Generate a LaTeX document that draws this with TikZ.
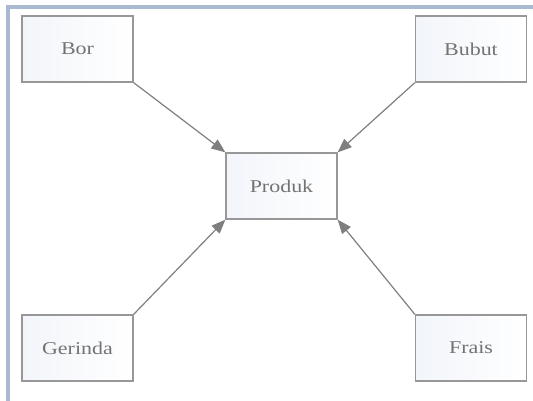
\documentclass[tikz,border=0pt]{standalone}
\usepackage{fontspec}
\setmainfont{Liberation Serif}
\usetikzlibrary{arrows.meta}
\definecolor{framec}{HTML}{A8B9D0}
\definecolor{boxline}{HTML}{979797}
\definecolor{boxfill}{HTML}{F2F5FA}
\definecolor{txtc}{HTML}{737373}
\definecolor{arrc}{HTML}{7F7F7F}
\tikzset{
  procbox/.style={draw=boxline, line width=1.3pt, shading angle=135, left color=boxfill, right color=white,
    minimum width=111pt, minimum height=66pt, inner sep=0pt, text=txtc,
    font=\fontsize{18}{20}\selectfont},
  conn/.style={draw=arrc, line width=1.2pt, -{Triangle[length=14pt,width=11pt]}}
}
\newcommand{\wtxt}[1]{\scalebox{1.22}[1]{#1}}
\begin{document}
\begin{tikzpicture}[x=1pt,y=-1pt]
\useasboundingbox (0,0) rectangle (533,401);
\fill[white] (0,0) rectangle (533,401);
\draw[framec, line width=4pt] (8,401) -- (8,6.7) -- (533,6.7);
\node[procbox] (bor) at (77.5,49) {\wtxt{Bor}};
\node[procbox] (bubut) at (471,49) {\wtxt{Bubut}};
\node[procbox] (produk) at (281.5,186) {\wtxt{Produk}};
\node[procbox] (gerinda) at (77.5,348) {\wtxt{Gerinda}};
\node[procbox] (frais) at (471,348) {\wtxt{Frais}};
\draw[conn] (bor.south east) -- (produk.north west);
\draw[conn] (bubut.south west) -- (produk.north east);
\draw[conn] (gerinda.north east) -- (produk.south west);
\draw[conn] (frais.north west) -- (produk.south east);
\end{tikzpicture}
\end{document}
